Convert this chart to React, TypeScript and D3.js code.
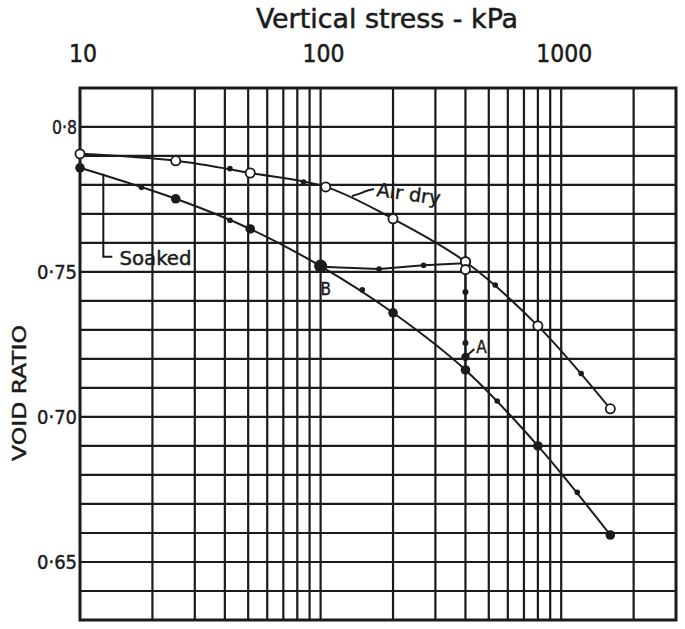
import React from "react";
import * as d3 from "d3";

// ---- data ----
const airDryStress = [10, 25, 51, 105, 200, 400, 800, 1600];
const airDryVoid = [0.7907, 0.7883, 0.7841, 0.7793, 0.7683, 0.7535, 0.7314, 0.7028];
const airDryDotStress = [42, 85, 532, 1210];
const airDryDotVoid = [0.7856, 0.781, 0.7455, 0.715];

const soakedStress = [10, 25, 51, 100, 200, 400, 800, 1600];
const soakedVoid = [0.7859, 0.7752, 0.7648, 0.752, 0.7359, 0.7162, 0.69, 0.6593];
const soakedDotStress = [18, 42, 149, 542, 1166];
const soakedDotVoid = [0.7792, 0.7678, 0.7438, 0.7055, 0.674];

// unloading / collapse path (B line and A line)
const bLineStress = [100, 175, 268, 395];
const bLineVoid = [0.7518, 0.751, 0.7523, 0.753];
const aOpenStress = [400, 400];
const aOpenVoid = [0.7535, 0.7508];
const aDotStress = [400, 400];
const aDotVoid = [0.7431, 0.7255];
const pointA = { stress: 400, void: 0.7207 };
const pointB = { stress: 100, void: 0.752 };

const xTickValues = [10, 100, 1000];
const xTickLabels = ["10", "100", "1000"];
const yTickValues = [0.65, 0.7, 0.75, 0.8];
const yTickLabels = ["0·65", "0·70", "0·75", "0·8"];

const W = 685;
const H = 629;
const M = { left: 80, right: 676, top: 88, bottom: 620 };
const FONT = "'DejaVu Sans Condensed', 'DejaVu Sans', sans-serif";
const INK = "#1b1b1b";

export default function App() {
  const x = d3.scaleLog().domain([10, 3000]).range([M.left, M.right]);
  const y = d3.scaleLinear().domain([0.63, 0.8134]).range([M.bottom, M.top]);

  const gridX = x.ticks().filter((t) => t > 10 && t < 3000);
  const gridY = d3.range(64, 81).map((v) => v / 100);

  const line = d3
    .line<[number, number]>()
    .x((d) => x(d[0]))
    .y((d) => y(d[1]))
    .curve(d3.curveCatmullRom.alpha(0.5));
  const straight = d3
    .line<[number, number]>()
    .x((d) => x(d[0]))
    .y((d) => y(d[1]));

  const airPts = airDryStress.map((s, i) => [s, airDryVoid[i]] as [number, number]);
  const soakPts = soakedStress.map((s, i) => [s, soakedVoid[i]] as [number, number]);
  const bPts = bLineStress.map((s, i) => [s, bLineVoid[i]] as [number, number]);

  // annotation anchors (data coordinates)
  const soakLeadX = x(12.5);
  const soakLeadTop = y(0.7838);
  const soakLeadBot = y(0.7552);
  const W5 = 500;

  return (
    <svg width={W} height={H} style={{ display: "block", position: "absolute", left: 0, top: 0, background: "#fff" }}>
      <rect x={0} y={0} width={W} height={H} fill="#fff" />
      {/* title */}
      <text x={387} y={28} textAnchor="middle" fontFamily={FONT} fontSize={27} fontWeight={W5} fill={INK} stroke={INK} strokeWidth={0.5} textLength={262} lengthAdjust="spacingAndGlyphs">
        Vertical stress - kPa
      </text>
      {/* x tick labels (top) */}
      {xTickValues.map((t, i) => (
        <text key={t} x={x(t) + 3} y={62} textAnchor="middle" fontFamily={FONT} fontSize={25} fontWeight={W5} fill={INK} stroke={INK} strokeWidth={0.5} textLength={xTickLabels[i].length * 14} lengthAdjust="spacingAndGlyphs">
          {xTickLabels[i]}
        </text>
      ))}
      {/* y tick labels */}
      {yTickValues.map((t, i) => (
        <text key={t} x={77} y={y(t) + 7} textAnchor="end" fontFamily={FONT} fontSize={19} fontWeight={W5} fill={INK} stroke={INK} strokeWidth={0.4} textLength={yTickLabels[i].length === 3 ? 25 : 40} lengthAdjust="spacingAndGlyphs">
          {yTickLabels[i]}
        </text>
      ))}
      {/* y title */}
      <text transform={`translate(26, ${393}) rotate(-90)`} textAnchor="middle" fontFamily={FONT} fontSize={20} fontWeight={W5} fill={INK} stroke={INK} strokeWidth={0.4} textLength={136} lengthAdjust="spacingAndGlyphs">
        VOID RATIO
      </text>

      {/* grid */}
      {gridX.map((t) => (
        <line key={"gx" + t} x1={x(t)} x2={x(t)} y1={M.top} y2={M.bottom} stroke={INK} strokeWidth={2.2} />
      ))}
      {gridY.map((t) => (
        <line key={"gy" + t} x1={M.left} x2={M.right} y1={y(t)} y2={y(t)} stroke={INK} strokeWidth={2.2} />
      ))}
      <rect x={M.left} y={M.top} width={M.right - M.left} height={M.bottom - M.top} fill="none" stroke={INK} strokeWidth={3} />

      {/* curves */}
      <path d={line(airPts) || ""} fill="none" stroke={INK} strokeWidth={2} />
      <path d={line(soakPts) || ""} fill="none" stroke={INK} strokeWidth={2} />
      <path d={straight(bPts) || ""} fill="none" stroke={INK} strokeWidth={2} />
      <line x1={x(aOpenStress[1])} x2={x(pointA.stress)} y1={y(aOpenVoid[1])} y2={y(soakedVoid[5])} stroke={INK} strokeWidth={2} />

      {/* small intermediate dots */}
      {airDryDotStress.map((s, i) => (
        <circle key={"ad" + i} cx={x(s)} cy={y(airDryDotVoid[i])} r={2.8} fill={INK} />
      ))}
      {soakedDotStress.map((s, i) => (
        <circle key={"sd" + i} cx={x(s)} cy={y(soakedDotVoid[i])} r={2.8} fill={INK} />
      ))}
      {bLineStress.slice(1, 3).map((s, i) => (
        <circle key={"bd" + i} cx={x(s)} cy={y(bLineVoid[i + 1])} r={2.8} fill={INK} />
      ))}
      {aDotStress.map((s, i) => (
        <circle key={"aq" + i} cx={x(s)} cy={y(aDotVoid[i])} r={3} fill={INK} />
      ))}

      {/* main markers */}
      {soakPts.map((p, i) => (
        <circle key={"sp" + i} cx={x(p[0])} cy={y(p[1])} r={4.8} fill={INK} />
      ))}
      <circle cx={x(pointB.stress)} cy={y(pointB.void)} r={6.5} fill={INK} />
      <circle cx={x(pointA.stress)} cy={y(pointA.void)} r={4.2} fill={INK} />
      {airPts.map((p, i) => (
        <circle key={"ap" + i} cx={x(p[0])} cy={y(p[1])} r={4.6} fill="#fff" stroke={INK} strokeWidth={1.8} />
      ))}
      {aOpenStress.map((s, i) => (
        <circle key={"ao" + i} cx={x(s)} cy={y(aOpenVoid[i])} r={4.6} fill="#fff" stroke={INK} strokeWidth={1.8} />
      ))}

      {/* annotations */}
      <path d={`M${soakLeadX},${soakLeadTop} V${soakLeadBot} H${soakLeadX + 9}`} fill="none" stroke={INK} strokeWidth={2} />
      <text x={x(14.6)} y={y(0.7524)} fontFamily={FONT} fontSize={19} fill={INK} stroke={INK} strokeWidth={0.4} textLength={72} lengthAdjust="spacingAndGlyphs">
        Soaked
      </text>
      <path d={`M${x(135)},${y(0.7762)} q8,-2 12,-4 t10,-3`} fill="none" stroke={INK} strokeWidth={2} />
      <text transform={`translate(${x(170)}, ${y(0.7762)}) rotate(8)`} fontFamily={FONT} fontSize={19} fill={INK} stroke={INK} strokeWidth={0.4} textLength={64} lengthAdjust="spacingAndGlyphs">
        Air dry
      </text>
      <text x={x(100)} y={y(0.7421)} fontFamily={FONT} fontSize={17} fill={INK} stroke={INK} strokeWidth={0.4}>
        B
      </text>
      <line x1={x(pointA.stress) + 2} y1={y(pointA.void) - 2} x2={x(pointA.stress) + 9} y2={y(pointA.void) - 8} stroke={INK} strokeWidth={2} />
      <text x={x(443)} y={y(0.7221)} fontFamily={FONT} fontSize={17} fill={INK} stroke={INK} strokeWidth={0.4}>
        A
      </text>
    </svg>
  );
}
